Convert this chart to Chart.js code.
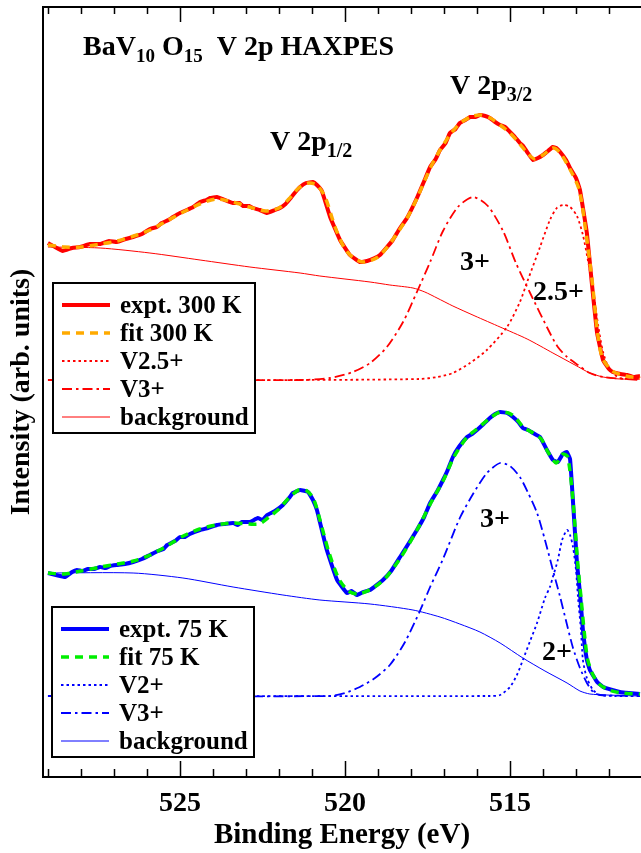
<!DOCTYPE html>
<html><head><meta charset="utf-8">
<script src="https://cdn.jsdelivr.net/npm/chart.js@4/dist/chart.umd.min.js"></script>
<style>html,body{margin:0;padding:0;background:#fff;overflow:hidden}#wrap{width:641px;height:853px;position:relative}</style>
</head><body><div id="wrap"><canvas id="c" width="641" height="853"></canvas></div>
<script>
// ---------- DATA (binding energy in eV, intensity in arb. units) ----------
const xTickValues = [525, 520, 515];
const xMinorTickValues = [529,528,527,526,525,524,523,522,521,520,519,518,517,516,515,514,513,512];

const expt300E = [529.00,528.79,528.55,528.27,528.03,527.73,527.42,527.15,526.91,526.65,526.42,526.15,525.91,525.70,525.55,525.35,525.21,525.00,524.79,524.60,524.39,524.20,524.09,523.88,523.64,523.39,523.20,523.09,522.90,522.79,522.58,522.36,522.12,521.97,521.80,521.67,521.50,521.36,521.18,520.97,520.85,520.70,520.45,520.15,519.85,519.55,519.33,519.10,518.94,518.75,518.55,518.35,518.12,517.82,517.60,517.42,517.25,517.12,516.95,516.82,516.65,516.52,516.35,516.21,516.05,515.91,515.75,515.61,515.45,515.30,515.15,515.00,514.85,514.70,514.60,514.48,514.30,514.15,514.00,513.85,513.70,513.60,513.48,513.30,513.18,513.00,512.88,512.67,512.52,512.36,512.18,512.00,511.88,511.65,511.45,511.25,511.06];
const expt300I = [53.4,53.0,52.6,52.9,53.0,53.3,53.3,53.6,53.5,53.8,54.0,54.3,54.8,55.0,55.4,55.7,56.0,56.4,56.7,57.0,57.5,57.7,57.9,58.0,57.7,57.4,57.4,57.1,57.1,56.9,56.7,56.4,56.7,56.9,57.3,57.8,58.5,59.0,59.4,59.5,59.2,58.6,56.0,53.7,52.2,51.5,51.6,51.9,52.2,52.9,53.7,54.8,55.9,57.9,59.6,61.0,61.8,62.7,63.4,64.4,64.8,65.4,65.7,66.0,66.0,66.2,66.1,65.9,65.5,65.2,65.0,64.5,64.0,63.4,63.1,62.5,61.7,61.9,62.2,62.6,63.0,62.9,62.5,61.7,60.9,59.9,58.7,54.4,49.4,44.4,41.7,40.8,40.5,40.3,40.2,40.0,40.1];

const fit300E = [529.0,528.5,528.0,527.4,526.9,526.4,525.9,525.4,524.9,524.4,523.9,523.4,522.9,522.4,522.0,521.7,521.4,521.1,520.85,520.6,520.3,520.0,519.7,519.4,519.0,518.6,518.1,517.8,517.4,517.1,516.8,516.5,516.2,515.9,515.6,515.3,515.0,514.7,514.45,514.25,514.0,513.7,513.5,513.2,512.9,512.7,512.5,512.35,512.2,511.9,511.5,511.06];
const fit300I = [53.2,53.0,53.0,53.3,53.6,54.1,54.7,55.6,56.5,57.3,57.8,57.5,57.0,56.6,56.9,57.8,58.9,59.4,59.2,58.0,55.0,52.8,51.8,51.5,52.0,53.5,56.0,58.0,61.0,62.8,64.3,65.4,66.0,66.2,65.9,65.2,64.4,63.3,62.3,61.8,62.2,62.9,62.5,60.9,58.7,54.5,49.3,44.5,41.9,40.6,40.1,39.9];

const v25E = [529.0,521.36,517.73,517.21,516.73,516.21,515.70,515.09,514.70,514.48,514.09,513.79,513.58,513.39,513.18,512.97,512.79,512.64,512.48,512.33,512.18,511.97,511.67,511.06];
const v25I = [39.7,39.7,39.8,40.0,40.4,41.4,42.7,45.0,47.5,49.5,53.0,55.7,56.9,57.2,57.0,56.1,54.2,51.7,48.7,45.2,42.5,40.7,39.9,39.8];

const v3aE = [529.0,521.36,520.45,519.76,519.24,518.73,518.24,517.82,517.42,517.03,516.58,516.12,515.67,515.21,514.82,514.39,513.79,513.55,513.27,512.94,512.58,512.18,511.06];
const v3aI = [39.7,39.7,39.9,40.5,41.4,43.0,45.5,48.5,51.5,54.6,57.0,58.0,57.1,54.6,51.4,48.4,44.4,43.0,42.0,41.2,40.4,40.0,39.7];

const bg300E = [529.0,527.42,525.91,524.39,522.88,521.36,520.76,519.24,518.64,517.94,517.58,517.21,516.73,516.06,515.30,514.48,513.70,513.03,512.58,512.18,511.67,511.06];
const bg300I = [53.0,52.9,52.4,51.7,51.0,50.4,50.1,49.5,49.2,48.9,48.5,47.9,47.1,46.1,45.0,43.8,42.4,41.2,40.4,40.0,39.8,39.8];

const expt75E = [529.00,528.76,528.48,528.27,528.12,527.95,527.79,527.60,527.42,527.25,527.12,526.91,526.67,526.42,526.15,525.91,525.67,525.50,525.39,525.15,525.00,524.85,524.70,524.39,524.15,523.88,523.64,523.39,523.25,523.12,522.88,522.64,522.50,522.36,522.12,521.88,521.67,521.58,521.36,521.12,520.97,520.85,520.76,520.55,520.24,519.94,519.80,519.64,519.45,519.24,518.85,518.60,518.33,518.10,517.82,517.60,517.42,517.20,517.03,516.90,516.73,516.55,516.30,516.15,516.00,515.80,515.61,515.45,515.30,515.09,514.91,514.75,514.61,514.45,514.30,514.09,513.88,513.70,513.55,513.40,513.28,513.18,513.10,512.97,512.88,512.79,512.67,512.58,512.36,512.18,511.90,511.67,511.40,511.06];
const expt75I = [20.4,20.2,20.0,20.5,20.7,20.6,20.8,20.8,21.0,20.9,21.1,21.2,21.3,21.5,21.8,22.2,22.6,22.8,23.2,23.6,24.0,24.0,24.3,24.7,24.9,25.2,25.3,25.4,25.2,25.5,25.5,25.9,25.7,26.2,26.6,27.2,28.0,28.4,28.7,28.5,27.7,26.7,25.5,22.7,19.7,18.4,18.6,18.2,18.5,18.7,19.7,20.6,22.0,23.2,24.7,26.0,27.4,28.6,29.7,30.6,32.0,33.0,34.0,34.3,34.7,35.3,35.9,36.3,36.5,36.4,36.0,35.5,34.9,34.7,34.4,34.0,32.7,31.7,31.5,32.3,32.5,31.8,28.0,21.4,18.4,14.7,11.7,10.7,9.5,9.0,8.7,8.5,8.4,8.3];

const fit75E = [529.0,528.5,528.0,527.4,526.9,526.4,525.9,525.4,524.9,524.4,523.9,523.4,522.9,522.6,522.3,522.0,521.7,521.4,521.15,520.95,520.75,520.5,520.2,519.9,519.6,519.2,518.8,518.3,517.8,517.4,517.0,516.7,516.3,516.0,515.6,515.3,515.05,514.85,514.6,514.3,514.05,513.85,513.6,513.4,513.25,513.1,512.95,512.85,512.75,512.65,512.5,512.3,512.0,511.6,511.06];
const fit75I = [20.4,20.3,20.6,21.0,21.3,21.6,22.2,23.1,24.1,24.8,25.2,25.4,25.3,25.3,26.0,26.8,27.9,28.7,28.6,27.8,25.6,22.6,19.9,18.6,18.3,18.8,19.8,22.0,24.8,27.4,29.8,32.0,34.0,34.8,35.9,36.5,36.4,36.0,35.0,34.4,33.8,32.5,31.4,32.3,32.0,28.0,21.5,18.0,14.5,11.8,10.3,9.3,8.7,8.4,8.3];

const v2E = [529.0,515.61,515.30,515.00,514.79,514.61,514.39,514.18,513.94,513.79,513.70,513.55,513.42,513.27,513.18,513.09,513.00,512.94,512.85,512.79,512.67,512.48,512.27,511.82,511.06];
const v2I = [8.1,8.1,8.2,9.0,10.2,11.7,13.6,15.4,17.9,19.0,20.0,21.7,23.7,24.7,24.2,23.0,20.7,18.0,14.7,11.7,9.9,8.7,8.2,8.1,8.1];

const v3bE = [529.0,520.45,520.00,519.55,519.09,518.64,518.18,517.73,517.42,517.03,516.52,516.12,515.70,515.30,515.00,514.70,514.45,514.18,513.94,513.70,513.48,513.27,513.09,512.88,512.67,512.48,512.27,511.06];
const v3bI = [8.1,8.1,8.4,9.0,9.9,11.2,13.5,16.6,19.0,21.8,25.9,28.3,30.4,31.4,31.1,30.0,28.4,26.4,23.7,20.7,18.0,15.2,12.9,10.9,9.4,8.5,8.2,8.1];

const bg75E = [529.0,526.42,524.91,523.39,521.88,520.76,519.24,517.94,517.12,516.52,515.91,515.30,514.61,513.94,513.27,512.88,512.58,512.06,511.06];
const bg75I = [20.4,20.4,19.9,19.0,18.2,17.7,17.3,16.7,16.0,15.3,14.5,13.4,11.9,10.6,9.4,8.6,8.3,8.2,8.1];

const labels300 = ['expt. 300 K','fit 300 K','V2.5+','V3+','background'];
const labels75 = ['expt. 75 K','fit 75 K','V2+','V3+','background'];

// ---------- CHART ----------
const SERIF = "'Liberation Serif','Times New Roman',serif";
const pts = (E, I) => E.map((e, i) => ({x: e, y: I[i]}));
const RED = '#ff0000', ORANGE = '#ffaa00', BLUE = '#0000ff', GREEN = '#00ee00';
const base = {showLine: true, pointRadius: 0, fill: false, tension: 0.25};

const datasets = [
  {...base, label: labels300[0], data: pts(expt300E, expt300I), borderColor: RED, borderWidth: 4, tension: 0.1, order: 2},
  {...base, label: labels300[1], data: pts(fit300E, fit300I), borderColor: ORANGE, borderWidth: 3.5, borderDash: [8, 6], order: 1},
  {...base, label: labels300[2], data: pts(v25E, v25I), borderColor: RED, borderWidth: 1.8, borderDash: [2.5, 3], order: 3},
  {...base, label: labels300[3], data: pts(v3aE, v3aI), borderColor: RED, borderWidth: 1.8, borderDash: [10, 4, 2.5, 4], order: 3},
  {...base, label: labels300[4], data: pts(bg300E, bg300I), borderColor: RED, borderWidth: 1, order: 3},
  {...base, label: labels75[0], data: pts(expt75E, expt75I), borderColor: BLUE, borderWidth: 4, tension: 0.1, order: 2},
  {...base, label: labels75[1], data: pts(fit75E, fit75I), borderColor: GREEN, borderWidth: 3.5, borderDash: [8, 6], order: 1},
  {...base, label: labels75[2], data: pts(v2E, v2I), borderColor: BLUE, borderWidth: 1.8, borderDash: [2.5, 3], order: 3},
  {...base, label: labels75[3], data: pts(v3bE, v3bI), borderColor: BLUE, borderWidth: 1.8, borderDash: [10, 4, 2.5, 4], order: 3},
  {...base, label: labels75[4], data: pts(bg75E, bg75I), borderColor: BLUE, borderWidth: 1, order: 3},
];

function richText(ctx, x, y, parts) {
  let cx = x;
  for (const p of parts) {
    ctx.font = 'bold ' + p.s + 'px ' + SERIF;
    ctx.fillText(p.t, cx, y + (p.dy || 0));
    cx += ctx.measureText(p.t).width;
  }
}

function drawLegend(ctx, chart, box, startIdx, labels) {
  ctx.save();
  ctx.fillStyle = '#fff';
  ctx.fillRect(box.x, box.y, box.w, box.h);
  ctx.lineWidth = 2;
  ctx.strokeStyle = '#000';
  ctx.setLineDash([]);
  ctx.strokeRect(box.x, box.y, box.w, box.h);
  labels.forEach((lab, i) => {
    const ds = chart.data.datasets[startIdx + i];
    const yy = box.y + 22 + i * 28;
    ctx.beginPath();
    ctx.strokeStyle = ds.borderColor;
    ctx.lineWidth = ds.borderWidth;
    ctx.setLineDash(ds.borderDash || []);
    ctx.moveTo(box.x + 9, yy);
    ctx.lineTo(box.x + 57, yy);
    ctx.stroke();
    ctx.setLineDash([]);
    ctx.fillStyle = '#000';
    ctx.font = 'bold 25px ' + SERIF;
    ctx.textBaseline = 'alphabetic';
    ctx.fillText(lab, box.x + 67, yy + 8);
  });
  ctx.restore();
}

const overlay = {
  id: 'overlay',
  afterDraw(chart) {
    const ctx = chart.ctx, a = chart.chartArea, xs = chart.scales.x;
    ctx.save();
    ctx.strokeStyle = '#000';
    ctx.lineWidth = 2;
    ctx.beginPath();
    ctx.moveTo(chart.width + 2, a.top); ctx.lineTo(a.left, a.top); ctx.lineTo(a.left, a.bottom); ctx.lineTo(chart.width + 2, a.bottom);
    ctx.stroke();
    ctx.lineWidth = 1.5;
    for (const v of xMinorTickValues) {
      const px = Math.round(xs.getPixelForValue(v)) + 0.5;
      const major = xTickValues.includes(v);
      ctx.beginPath();
      ctx.moveTo(px, a.bottom); ctx.lineTo(px, a.bottom - (major ? 16 : 8));
      ctx.moveTo(px, a.top); ctx.lineTo(px, a.top + (major ? 15 : 7));
      ctx.stroke();
    }
    ctx.fillStyle = '#000';
    ctx.textBaseline = 'alphabetic';
    ctx.textAlign = 'left';
    richText(ctx, 83, 55, [{t: 'BaV', s: 28}, {t: '10', s: 19, dy: 7}, {t: ' O', s: 28}, {t: '15', s: 19, dy: 7}, {t: '  V 2p HAXPES', s: 28}]);
    richText(ctx, 270, 150, [{t: 'V 2p', s: 28}, {t: '1/2', s: 20, dy: 7}]);
    richText(ctx, 450, 94, [{t: 'V 2p', s: 28}, {t: '3/2', s: 20, dy: 7}]);
    richText(ctx, 460, 270, [{t: '3+', s: 28}]);
    richText(ctx, 533, 300, [{t: '2.5+', s: 28}]);
    richText(ctx, 480, 527, [{t: '3+', s: 28}]);
    richText(ctx, 542, 660, [{t: '2+', s: 28}]);
    ctx.restore();
    drawLegend(ctx, chart, {x: 53, y: 283, w: 202, h: 150}, 0, labels300);
    drawLegend(ctx, chart, {x: 52, y: 607, w: 202, h: 150}, 5, labels75);
  }
};

new Chart(document.getElementById('c'), {
  type: 'scatter',
  data: {datasets},
  options: {
    responsive: false,
    animation: false,
    devicePixelRatio: 1,
    layout: {padding: {top: 7, right: 0, bottom: 0, left: 0}},
    plugins: {legend: {display: false}, tooltip: {enabled: false}},
    scales: {
      x: {
        type: 'linear', reverse: true, min: 511.03, max: 529.15,
        grid: {display: false, drawTicks: false}, border: {display: false},
        afterBuildTicks: s => { s.ticks = xTickValues.map(v => ({value: v})); },
        afterFit: s => { s.height = 76; },
        ticks: {color: '#000', padding: 10, font: {family: SERIF, size: 28, weight: 'bold'}},
        title: {display: true, text: 'Binding Energy (eV)', color: '#000', padding: {top: 0, bottom: 0}, font: {family: SERIF, size: 29, weight: 'bold'}}
      },
      y: {
        type: 'linear', min: 0, max: 77,
        grid: {display: false, drawTicks: false}, border: {display: false},
        ticks: {display: false},
        afterFit: s => { s.width = 43; },
        title: {display: true, text: 'Intensity (arb. units)', color: '#000', padding: {top: 5, bottom: 0}, font: {family: SERIF, size: 28, weight: 'bold'}}
      }
    }
  },
  plugins: [overlay]
});
</script></body></html>
